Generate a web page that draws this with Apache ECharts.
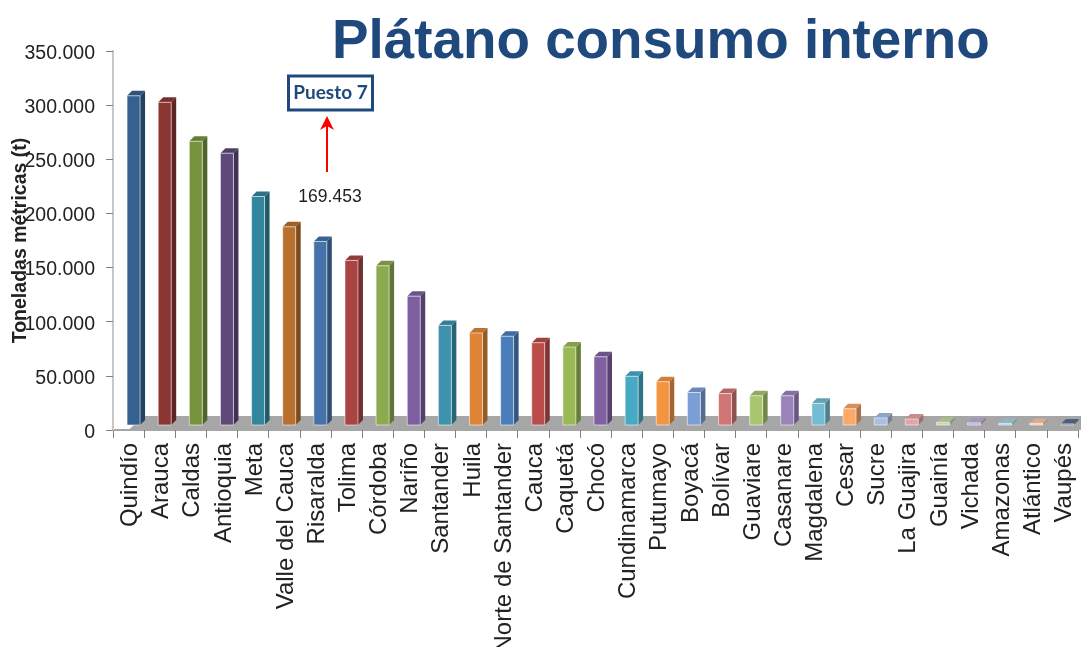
<!DOCTYPE html>
<html><head><meta charset="utf-8">
<style>html,body{margin:0;padding:0;background:#fff;overflow:hidden}#c{width:1081px;height:647px}</style>
<script src="https://cdn.jsdelivr.net/npm/echarts@6/dist/echarts.min.js"></script>
</head><body><div id="c"></div>
<script>
const categories = ['Quindío','Arauca','Caldas','Antioquia','Meta','Valle del Cauca','Risaralda','Tolima','Córdoba','Nariño','Santander','Huila','Norte de Santander','Cauca','Caquetá','Chocó','Cundinamarca','Putumayo','Boyacá','Bolívar','Guaviare','Casanare','Magdalena','Cesar','Sucre','La Guajira','Guainía','Vichada','Amazonas','Atlántico','Vaupés'];
const toneladas = [304000,298000,262000,251000,211000,183000,169453,152000,147000,119000,92000,85000,82000,76000,72000,63000,45000,40000,30000,29000,27000,27000,20000,15000,6500,5500,2500,2000,1500,1500,1000];
const barColors = ['#35608f','#8c3634','#77933c','#5f497a','#31859c','#b8702c','#4573a9','#a94442','#8cab4f','#7d5ea0','#3d93ad','#dd8436','#4a7ebb','#bb4c49','#98b954','#8060a2','#47a9c4','#f49440','#7b9fd4','#d27675','#a9c66f','#9a82bb','#72bcd4','#fba868','#a8bfe4','#e3a5a3','#c6d8a4','#bdaed4','#a3d4e4','#fbc8a4','#5a6f8f'];
const yTicks = {min:0,max:350000,interval:50000};
const titleText = 'Plátano consumo interno';
const yName = 'Toneladas métricas (t)';
const annotationBox = 'Puesto 7';
const annotationValue = '169.453';

function shade(hex,f){
  const n=parseInt(hex.slice(1),16);
  const c=[n>>16,(n>>8)&255,n&255].map(v=>Math.round(v*f));
  return 'rgb('+c.join(',')+')';
}
const chart = echarts.init(document.getElementById('c'),null,{renderer:'canvas'});
const D=5, W=13;
chart.setOption({
  animation:false,
  backgroundColor:'#fff',
  title:{text:titleText,left:332,top:15,padding:0,textStyle:{fontFamily:'Liberation Sans',fontWeight:'bold',fontSize:54.8,color:'#1f497d'}},
  grid:{left:113,right:3,top:51,bottom:217,containLabel:false,outerBoundsMode:'none'},
  xAxis:{type:'category',data:categories,
    axisLine:{lineStyle:{color:'#a6a6a6',width:2}},
    axisTick:{show:true,alignWithLabel:false,length:8,lineStyle:{color:'#808080',width:1}},
    axisLabel:{interval:0,rotate:90,margin:13,fontFamily:'Liberation Sans',fontSize:24,color:'#222',hideOverlap:false,verticalAlign:'top',lineHeight:4}},
  yAxis:{type:'value',min:yTicks.min,max:yTicks.max,interval:yTicks.interval,
    name:yName,nameLocation:'middle',nameGap:82,nameRotate:90,nameMoveOverlap:false,z:5,
    nameTextStyle:{fontFamily:'Liberation Sans',fontWeight:'bold',fontSize:19.5,color:'#222'},
    splitLine:{show:false},
    axisLine:{show:true,lineStyle:{color:'#c8c8c8',width:2}},
    axisTick:{show:true,length:7,lineStyle:{color:'#808080',width:1}},
    axisLabel:{margin:18,fontFamily:'Liberation Sans',fontSize:19.5,color:'#222',verticalAlign:'top',lineHeight:5,
      formatter:v=>String(v).replace(/\B(?=(\d{3})+$)/g,'.')}},
  series:[
    {type:'custom',silent:true,clip:false,z:1,data:[0],
     renderItem:(p,api)=>{
       const o=api.coord([0,0]);
       return {type:'polygon',shape:{points:[[o[0],o[1]],[o[0]+15,o[1]-14],[1081,o[1]-14],[1081,o[1]]]},style:{fill:'#a6a6a6'}};
     }},
    {type:'custom',silent:true,clip:false,z:2,
     data:toneladas.map((v,i)=>[i,v]),
     encode:{x:0,y:1},
     renderItem:(p,api)=>{
       const i=api.value(0), t=api.coord([i,api.value(1)]), b=api.coord([i,0]);
       const c=barColors[i];
       const x0=t[0]-1.5, x1=x0+W, yt=t[1]-D, yb=b[1]-D;
       return {type:'group',children:[
         {type:'polygon',shape:{points:[[x1,yt],[x1+D,yt-D],[x1+D,yb-D],[x1,yb]]},style:{fill:shade(c,0.68)}},
         {type:'polygon',shape:{points:[[x0,yt],[x0+D,yt-D],[x1+D,yt-D],[x1,yt]]},style:{fill:shade(c,0.86)}},
         {type:'rect',shape:{x:x0,y:yt,width:W,height:yb-yt},style:{fill:c,stroke:'rgba(255,255,255,0.55)',lineWidth:1}}
       ]};
     }}
  ],
  graphic:[
    {type:'rect',shape:{x:288.5,y:76,width:84,height:34},style:{fill:'#fff',stroke:'#1f497d',lineWidth:3}},
    {type:'text',x:330.5,y:93,style:{text:annotationBox,fontFamily:'Lato',fontWeight:'bold',fontSize:19,fill:'#1f497d',align:'center',verticalAlign:'middle'}},
    {type:'line',shape:{x1:327,y1:172,x2:327,y2:124},style:{stroke:'#ff0000',lineWidth:2}},
    {type:'polygon',shape:{points:[[327,116],[320,130],[327,126],[334,130]]},style:{fill:'#ff0000'}},
    {type:'text',x:330,y:197,style:{text:annotationValue,fontFamily:'Liberation Sans',fontSize:17.5,fill:'#222',align:'center',verticalAlign:'middle'}}
  ]
});
</script></body></html>
